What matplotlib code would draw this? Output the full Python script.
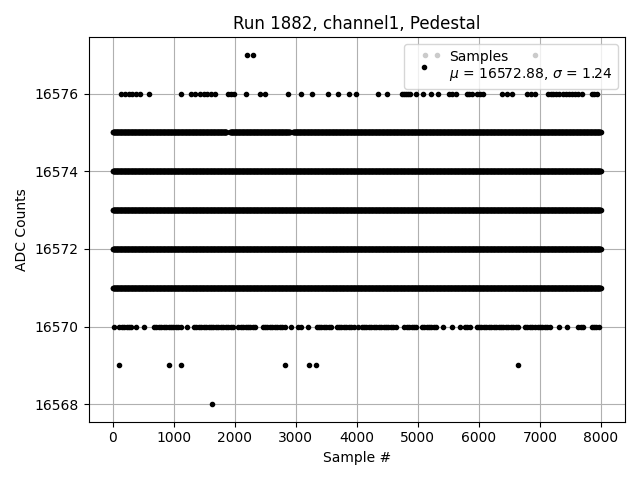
import numpy as np
import matplotlib
matplotlib.use('Agg')
import matplotlib.pyplot as plt

# Значення ADC, які зустрічаються майже в кожній точці (0..7999)
full_levels = [16571, 16572, 16573, 16574]
full_range = (0, 7999)

# 16575 - майже суцільно, з двома невеликими проміжками
runs_16575 = [(0, 1860), (1920, 2900), (2955, 7999)]

# 16570 - групи точок (діапазони номерів) та окремі точки
runs_16570 = [(103, 306), (672, 1126), (1328, 1972), (2054, 2355), (2454, 2847),
              (3038, 3093), (3339, 3612), (3667, 3967), (4077, 4651), (4775, 4979),
              (5061, 5306), (5770, 5880), (5962, 6672), (6754, 6946), (6962, 7192),
              (7628, 7738), (7847, 7999)]
single_16570 = [16, 377, 508, 1218, 2913, 3202, 4022, 5415, 5552, 5689, 7311, 7438]

# рідкісні значення
samples_16576 = [131, 197, 262, 317, 383, 437, 595, 1115, 1273, 1350, 1421, 1486,
                 1541, 1607, 1672, 1880, 1940, 1989, 2180, 2410, 2492, 2874, 3082,
                 3257, 3530, 3694, 3874, 3984, 4339, 4497, 4733, 4770, 4800, 4835,
                 4869, 4962, 5087, 5213, 5323, 5508, 5560, 5618, 5798, 5845, 5890,
                 5962, 6015, 6071, 6372, 6454, 6536, 6782, 6850, 6918, 7136, 7180,
                 7220, 7270, 7320, 7380, 7430, 7480, 7530, 7580, 7630, 7683, 7847,
                 7890, 7929]
samples_16577 = [2197, 2295, 5115, 5311, 6918]
samples_16569 = [98, 918, 1115, 2820, 3213, 3328, 6640]
samples_16568 = [1618]

mu = 16572.88
sigma = 1.24

xs, ys = [], []

def add_runs(runs, level, step):
    for a, b in runs:
        idx = np.arange(a, b + 1, step)
        xs.extend(idx)
        ys.extend([level] * len(idx))

def add_points(points, level):
    xs.extend(points)
    ys.extend([level] * len(points))

for lv in full_levels:
    add_runs([full_range], lv, 5)
add_runs(runs_16575, 16575, 5)
add_runs(runs_16570, 16570, 40)
add_points(single_16570, 16570)
add_points(samples_16576, 16576)
add_points(samples_16577, 16577)
add_points(samples_16569, 16569)
add_points(samples_16568, 16568)

fig, ax = plt.subplots(figsize=(6.4, 4.8), dpi=100)
ax.plot(xs, ys, 'k.', label='Samples\n$\\mu$ = %.2f, $\\sigma$ = %.2f' % (mu, sigma))

ax.set_title('Run 1882, channel1, Pedestal')
ax.set_xlabel('Sample #')
ax.set_ylabel('ADC Counts')
ax.ticklabel_format(axis='y', useOffset=False, style='plain')
ax.grid(True)
ax.legend(loc='upper right')
plt.tight_layout()
plt.savefig('out.png')
